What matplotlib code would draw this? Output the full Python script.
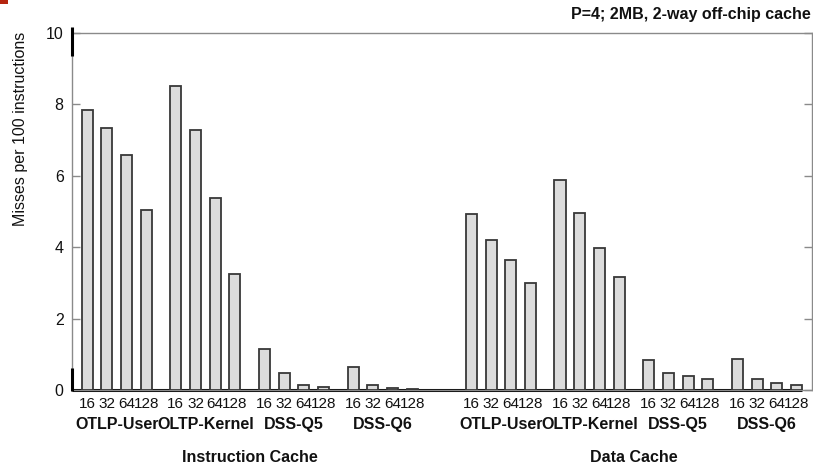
import matplotlib
matplotlib.use("Agg")
import matplotlib.pyplot as plt
from matplotlib.patches import Rectangle

plt.rcParams['font.family'] = ['Liberation Sans', 'DejaVu Sans']

caches = ["Instruction Cache", "Data Cache"]
workloads = ["OTLP-User", "OLTP-Kernel", "DSS-Q5", "DSS-Q6"]
block_sizes = ["16", "32", "64", "128"]

icache_values = [
    [7.84, 7.35, 6.57, 5.04],   # OTLP-User
    [8.52, 7.28, 5.39, 3.26],   # OLTP-Kernel
    [1.16, 0.47, 0.13, 0.08],   # DSS-Q5
    [0.65, 0.13, 0.06, 0.03],   # DSS-Q6
]
dcache_values = [
    [4.94, 4.20, 3.64, 3.01],   # OTLP-User
    [5.89, 4.95, 3.99, 3.17],   # OLTP-Kernel
    [0.85, 0.48, 0.38, 0.32],   # DSS-Q5
    [0.88, 0.32, 0.20, 0.14],   # DSS-Q6
]
title = "P=4; 2MB, 2-way off-chip cache"
ylabel = "Misses per 100 instructions"

W, H = 813, 466
fig = plt.figure(figsize=(W / 100, H / 100), dpi=100)
ax = fig.add_axes([72 / W, (H - 390) / H, 740 / W, 357 / H])

group_step = 4.5
cache_step = 19.5
bar_w = 0.56

positions, values, labels = [], [], []
group_centers = []
cache_centers = []
for c, cache_vals in enumerate([icache_values, dcache_values]):
    cpos = []
    for g, gvals in enumerate(cache_vals):
        base = c * cache_step + g * group_step
        gp = [base + i for i in range(len(gvals))]
        positions += gp
        values += gvals
        labels += block_sizes
        cpos += gp
        group_centers.append((sum(gp) / len(gp), workloads[g]))
    cache_centers.append(((cpos[0] + cpos[-1]) / 2, caches[c]))

xmin, xmax = positions[0] - 0.77, positions[-1] + 0.79
ax.set_xlim(xmin, xmax)
ax.set_ylim(0, 10)

# black baseline
ax.plot([xmin, positions[-1] + bar_w / 2], [0, 0], color='black', lw=2.2,
        zorder=2, solid_capstyle='butt', clip_on=False)

ax.bar(positions, values, width=bar_w, color='#dcdcdc', edgecolor='#383838',
       linewidth=1.3, zorder=3)

grey = '#8a8a8a'
for s in ax.spines.values():
    s.set_color(grey)
    s.set_linewidth(1.0)

ax.set_yticks([0, 2, 4, 6, 8, 10])
ax.tick_params(axis='y', which='both', direction='in', length=6, width=1,
               color=grey, labelsize=11.5, pad=6, right=True, labelcolor='#111111')
ax.set_xticks(positions)
ax.set_xticklabels(labels)
ax.tick_params(axis='x', length=0, labelsize=11, pad=5, labelcolor='#111111')

# black marks on left spine
ax.plot([xmin, xmin], [-0.03, 0.62], color='black', lw=2.2, clip_on=False, zorder=5,
        solid_capstyle='butt')
ax.plot([xmin, xmin], [9.36, 10.18], color='black', lw=2.2, clip_on=False, zorder=5,
        solid_capstyle='butt')

trans = ax.get_xaxis_transform()
for xc, name in group_centers:
    ax.text(xc, -0.097, name, transform=trans, ha='center', va='center',
            fontsize=11.5, fontweight='bold', color='#111111')
for xc, name in cache_centers:
    ax.text(xc, -0.188, name, transform=trans, ha='center', va='center',
            fontsize=11.5, fontweight='bold', color='#111111')

fig.text(811 / W, 1 - 14 / H, title, ha='right', va='center', fontsize=11.5,
         fontweight='bold', color='#111111')
fig.text(21 / W, 1 - 32 / H, ylabel, rotation=90, ha='center', va='top',
         fontsize=11.5, color='#111111')

fig.patches.append(Rectangle((0, 1 - 4 / H), 8 / W, 4 / H, transform=fig.transFigure,
                             facecolor='#b5250f', edgecolor='none'))

fig.savefig("out.png", dpi=100)
